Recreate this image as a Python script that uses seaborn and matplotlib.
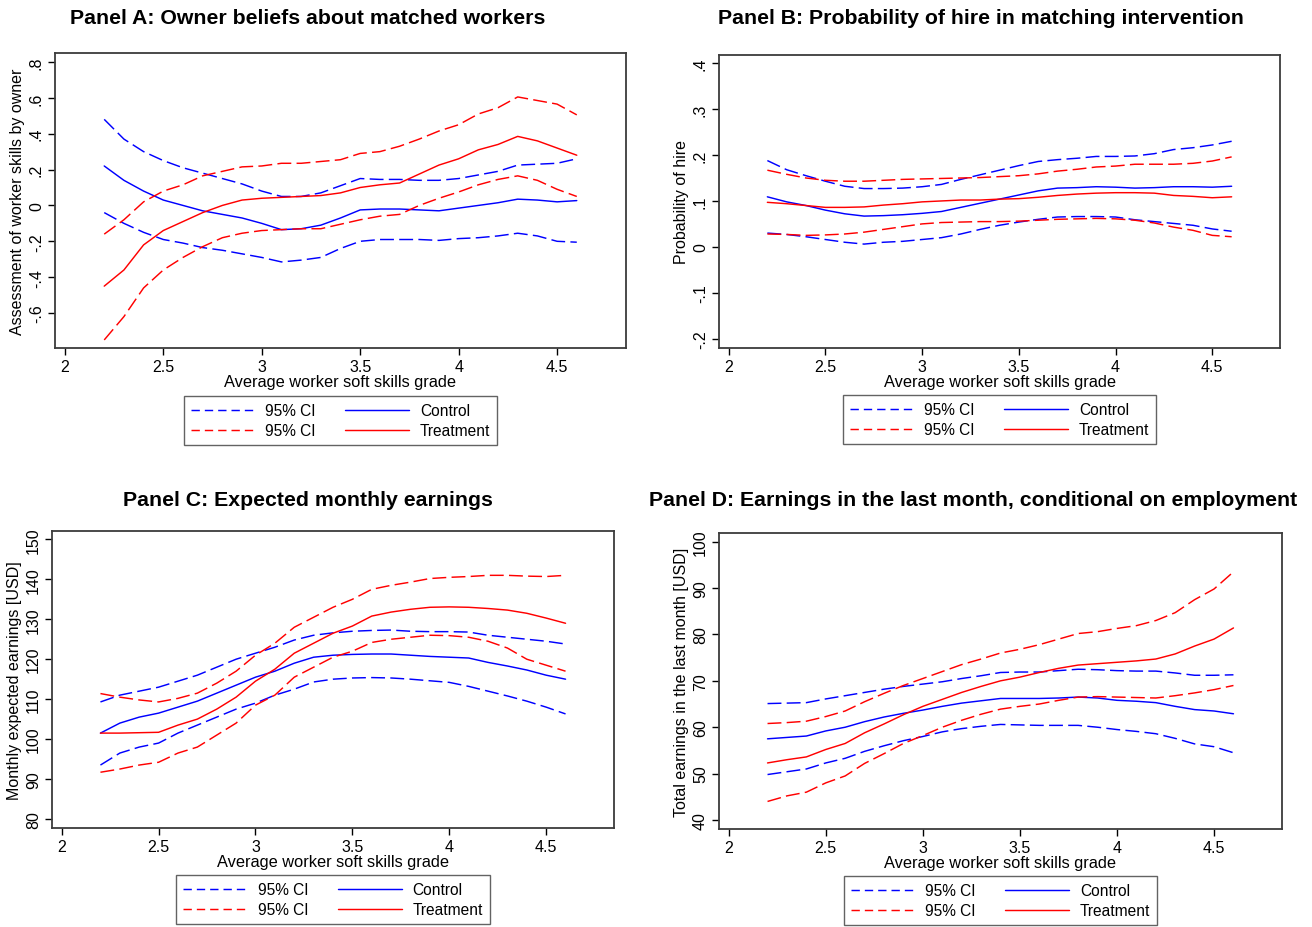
import matplotlib
matplotlib.use("Agg")
import matplotlib.pyplot as plt
import numpy as np
import pandas as pd
import seaborn as sns
from matplotlib.lines import Line2D
from matplotlib.ticker import FuncFormatter

# ---------------------------------------------------------------------------
# Data: local-polynomial fits and 95% confidence bands by soft-skills grade
# ---------------------------------------------------------------------------
grade = [2.2, 2.3, 2.4, 2.5, 2.6, 2.7, 2.8, 2.9, 3.0, 3.1, 3.2, 3.3, 3.4,
         3.5, 3.6, 3.7, 3.8, 3.9, 4.0, 4.1, 4.2, 4.3, 4.4, 4.5, 4.6]

# Panel A: owner beliefs about matched workers
a_control = [0.22, 0.14, 0.08, 0.03, 0.0, -0.03, -0.05, -0.07, -0.10, -0.135, -0.13, -0.11, -0.07,
             -0.025, -0.02, -0.02, -0.025, -0.03, -0.015, 0.0, 0.015, 0.035, 0.03, 0.02, 0.027]
a_control_hi = [0.48, 0.37, 0.30, 0.25, 0.21, 0.18, 0.15, 0.12, 0.08, 0.05, 0.05, 0.07, 0.11,
                0.15, 0.145, 0.145, 0.14, 0.14, 0.15, 0.17, 0.19, 0.225, 0.23, 0.235, 0.26]
a_control_lo = [-0.04, -0.10, -0.15, -0.19, -0.21, -0.235, -0.25, -0.27, -0.29, -0.315, -0.305, -0.29, -0.24,
                -0.20, -0.19, -0.19, -0.19, -0.195, -0.185, -0.18, -0.17, -0.155, -0.17, -0.20, -0.205]
a_treat = [-0.45, -0.36, -0.22, -0.14, -0.09, -0.04, 0.0, 0.03, 0.04, 0.045, 0.05, 0.055, 0.07,
           0.10, 0.115, 0.125, 0.175, 0.225, 0.26, 0.31, 0.34, 0.385, 0.36, 0.32, 0.28]
a_treat_hi = [-0.16, -0.08, 0.02, 0.08, 0.115, 0.165, 0.19, 0.215, 0.22, 0.235, 0.235, 0.245, 0.255,
              0.29, 0.30, 0.33, 0.37, 0.415, 0.45, 0.51, 0.545, 0.605, 0.585, 0.565, 0.505]
a_treat_lo = [-0.75, -0.62, -0.46, -0.36, -0.29, -0.23, -0.18, -0.155, -0.14, -0.135, -0.13, -0.13, -0.105,
              -0.08, -0.06, -0.05, 0.0, 0.04, 0.075, 0.115, 0.145, 0.165, 0.14, 0.09, 0.05]

# Panel B: probability of hire in matching intervention
b_control = [0.109, 0.098, 0.09, 0.08, 0.072, 0.067, 0.068, 0.070, 0.073, 0.077, 0.086, 0.095, 0.104,
             0.113, 0.122, 0.128, 0.129, 0.131, 0.130, 0.128, 0.129, 0.131, 0.131, 0.130, 0.132]
b_control_hi = [0.188, 0.168, 0.155, 0.143, 0.132, 0.127, 0.127, 0.128, 0.131, 0.136, 0.147, 0.157, 0.167,
                0.177, 0.186, 0.190, 0.193, 0.197, 0.197, 0.198, 0.203, 0.212, 0.216, 0.222, 0.230]
b_control_lo = [0.030, 0.027, 0.022, 0.016, 0.010, 0.006, 0.010, 0.012, 0.016, 0.020, 0.028, 0.038, 0.047,
                0.054, 0.060, 0.065, 0.066, 0.066, 0.065, 0.059, 0.055, 0.051, 0.047, 0.039, 0.034]
b_treat = [0.097, 0.094, 0.090, 0.086, 0.086, 0.087, 0.091, 0.094, 0.098, 0.100, 0.102, 0.102, 0.104,
           0.105, 0.108, 0.112, 0.115, 0.117, 0.118, 0.118, 0.117, 0.112, 0.110, 0.107, 0.109]
b_treat_hi = [0.167, 0.158, 0.150, 0.145, 0.143, 0.143, 0.145, 0.147, 0.148, 0.149, 0.150, 0.151, 0.153,
              0.155, 0.159, 0.165, 0.169, 0.174, 0.176, 0.180, 0.180, 0.180, 0.182, 0.187, 0.196]
b_treat_lo = [0.028, 0.027, 0.025, 0.026, 0.028, 0.032, 0.038, 0.044, 0.050, 0.053, 0.054, 0.055, 0.055,
              0.056, 0.058, 0.060, 0.061, 0.062, 0.061, 0.058, 0.052, 0.043, 0.036, 0.025, 0.022]

# Panel C: expected monthly earnings (USD)
c_control = [101.5, 104, 105.5, 106.5, 108, 109.5, 111.5, 113.5, 115.5, 117, 119, 120.5, 121,
             121.2, 121.3, 121.3, 121, 120.7, 120.5, 120.3, 119.2, 118.3, 117.3, 116, 115]
c_control_hi = [109.3, 111, 112, 113, 114.5, 116, 118, 120, 121.5, 123, 124.8, 126, 126.6,
                127, 127.2, 127.3, 127, 126.9, 126.9, 126.8, 126, 125.5, 125, 124.5, 123.8]
c_control_lo = [93.5, 96.5, 98, 99, 101.5, 103.5, 105.5, 107.5, 109, 111, 112.5, 114.3, 115,
                115.3, 115.4, 115.3, 115, 114.6, 114.2, 113.2, 112, 110.8, 109.5, 108, 106.3]
c_treat = [101.5, 101.5, 101.6, 101.7, 103.5, 105, 107.5, 110.5, 114.5, 117.5, 121.5, 124, 126.5,
           128.3, 130.8, 131.8, 132.5, 133, 133.1, 133, 132.7, 132.3, 131.5, 130.3, 129]
c_treat_hi = [111.4, 110.5, 109.8, 109.3, 110.2, 111.5, 114, 117, 121, 124, 128, 130.5, 133,
              135, 137.5, 138.5, 139.3, 140.2, 140.5, 140.7, 141, 141, 140.8, 140.7, 141]
c_treat_lo = [91.7, 92.5, 93.5, 94.2, 96.5, 98, 101, 104, 108.5, 111, 115.5, 118, 120.5,
              122, 124.2, 125, 125.5, 126, 125.9, 125.5, 124.5, 122.8, 120, 118.5, 117]

# Panel D: earnings in the last month, conditional on employment (USD)
d_control = [57.5, 57.8, 58.1, 59.2, 60, 61.2, 62.2, 63, 63.7, 64.5, 65.2, 65.7, 66.2,
             66.2, 66.2, 66.3, 66.5, 66.3, 65.8, 65.6, 65.3, 64.5, 63.8, 63.5, 62.9]
d_control_hi = [65.1, 65.2, 65.3, 66.1, 66.8, 67.5, 68.2, 68.8, 69.3, 69.8, 70.5, 71.1, 71.8,
                71.9, 71.9, 72.2, 72.5, 72.4, 72.2, 72.1, 72.1, 71.7, 71.2, 71.2, 71.3]
d_control_lo = [49.8, 50.4, 51, 52.3, 53.3, 54.8, 56, 57.1, 58, 59, 59.7, 60.2, 60.6,
                60.5, 60.4, 60.4, 60.4, 60, 59.5, 59.1, 58.6, 57.6, 56.4, 55.8, 54.5]
d_treat = [52.3, 53, 53.6, 55.2, 56.5, 58.8, 60.7, 62.7, 64.5, 66, 67.5, 68.8, 70,
           70.8, 71.8, 72.7, 73.4, 73.7, 74, 74.3, 74.7, 75.8, 77.5, 79, 81.4]
d_treat_hi = [60.8, 61, 61.3, 62.3, 63.5, 65.5, 67.3, 69, 70.5, 72, 73.5, 74.7, 76,
              76.8, 77.8, 79, 80.2, 80.6, 81.3, 81.9, 83, 84.7, 87.5, 89.8, 93.5]
d_treat_lo = [44, 45.2, 46, 48, 49.5, 52.2, 54.3, 56.5, 58.2, 60, 61.5, 62.8, 63.9,
              64.5, 65, 65.8, 66.5, 66.6, 66.5, 66.4, 66.3, 66.8, 67.4, 68.1, 69]

x_ticks = [2, 2.5, 3, 3.5, 4, 4.5]
x_label = "Average worker soft skills grade"
legend_labels = ["95% CI", "95% CI", "Control", "Treatment"]

# ---------------------------------------------------------------------------
# Style
# ---------------------------------------------------------------------------
sns.set_theme(style="white")
plt.rcParams["font.family"] = ["Liberation Sans", "DejaVu Sans"]
plt.rcParams["lines.scale_dashes"] = False
plt.rcParams["axes.unicode_minus"] = False
for key in ["text.color", "axes.labelcolor", "xtick.color", "ytick.color"]:
    plt.rcParams[key] = "black"

BLUE = "#0000FF"
RED = "#FF0000"
DASH = (0, (10, 3.8))
KEY_DASH = (0, (6, 3.6))
LW = 1.05
FRAME = "#3c3c3c"

W, H = 1312, 928
fig = plt.figure(figsize=(W / 100, H / 100), dpi=100)
fig.patch.set_facecolor("white")


def box(left, right, top, bottom):
    return [left / W, 1 - bottom / H, (right - left) / W, (bottom - top) / H]


def stata_fmt(v, pos):
    s = f"{round(v, 6):g}"
    if s.startswith("0."):
        s = s[1:]
    elif s.startswith("-0."):
        s = "-" + s[2:]
    return s


panels = [
    dict(rect=box(55, 626, 54, 349), ylim=(-0.795, 0.85), yticks=np.arange(-0.6, 0.81, 0.2),
         ylabel="Assessment of worker skills by owner",
         title="Panel A: Owner beliefs about matched workers", title_xy=(308, 18), leg_top=397,
         series=(a_control, a_control_hi, a_control_lo, a_treat, a_treat_hi, a_treat_lo)),
    dict(rect=box(719, 1280, 56, 349), ylim=(-0.2204, 0.418), yticks=np.arange(-0.2, 0.41, 0.1),
         ylabel="Probability of hire",
         title="Panel B: Probability of hire in matching intervention", title_xy=(981, 18), leg_top=396,
         series=(b_control, b_control_hi, b_control_lo, b_treat, b_treat_hi, b_treat_lo)),
    dict(rect=box(52, 614, 532, 829), ylim=(77.74, 152.1), yticks=np.arange(80, 151, 10),
         ylabel="Monthly expected earnings [USD]",
         title="Panel C: Expected monthly earnings", title_xy=(308, 501), leg_top=876,
         series=(c_control, c_control_hi, c_control_lo, c_treat, c_treat_hi, c_treat_lo)),
    dict(rect=box(719, 1282, 534, 830), ylim=(38.06, 101.87), yticks=np.arange(40, 101, 10),
         ylabel="Total earnings in the last month [USD]",
         title="Panel D: Earnings in the last month, conditional on employment", title_xy=(973, 501),
         leg_top=877,
         series=(d_control, d_control_hi, d_control_lo, d_treat, d_treat_hi, d_treat_lo)),
]

# Legend keys: dashed bands and solid fits for each group
legend_keys = [Line2D([], [], color=BLUE, lw=LW, linestyle=KEY_DASH),
               Line2D([], [], color=RED, lw=LW, linestyle=KEY_DASH),
               Line2D([], [], color=BLUE, lw=LW),
               Line2D([], [], color=RED, lw=LW)]

for p in panels:
    ax = fig.add_axes(p["rect"])
    ctrl, ctrl_hi, ctrl_lo, trt, trt_hi, trt_lo = p["series"]
    df = pd.DataFrame({"grade": grade, "ctrl": ctrl, "ctrl_hi": ctrl_hi, "ctrl_lo": ctrl_lo,
                       "trt": trt, "trt_hi": trt_hi, "trt_lo": trt_lo})

    for col, color, style in [("ctrl_hi", BLUE, DASH), ("ctrl_lo", BLUE, DASH), ("ctrl", BLUE, "-"),
                              ("trt_hi", RED, DASH), ("trt_lo", RED, DASH), ("trt", RED, "-")]:
        sns.lineplot(data=df, x="grade", y=col, ax=ax, color=color, linestyle=style,
                     linewidth=LW, errorbar=None, legend=False)

    ax.set_xlim(1.95, 4.85)
    ax.set_ylim(*p["ylim"])
    ax.set_xticks(x_ticks)
    ax.set_yticks(p["yticks"])
    ax.xaxis.set_major_formatter(FuncFormatter(stata_fmt))
    ax.yaxis.set_major_formatter(FuncFormatter(stata_fmt))
    ax.tick_params(axis="both", direction="out", length=5, width=1, color="black",
                   labelcolor="black", labelsize=11.5, pad=3, bottom=True, left=True)
    for lab in ax.get_yticklabels():
        lab.set_rotation(90)
        lab.set_va("center")
    ax.set_xlabel(x_label, fontsize=11.8, labelpad=0, color="black")
    ax.set_ylabel(p["ylabel"], fontsize=11.5, labelpad=3, color="black")
    for side in ["top", "right", "left", "bottom"]:
        ax.spines[side].set_color(FRAME)
        ax.spines[side].set_linewidth(1.3)
    ax.set_facecolor("white")

    cx = (p["rect"][0] + p["rect"][2] / 2)
    leg = ax.legend(legend_keys, legend_labels, ncol=2, loc="upper center",
                    bbox_to_anchor=(cx, 1 - p["leg_top"] / H), bbox_transform=fig.transFigure,
                    borderaxespad=0, fontsize=11.2, frameon=True, fancybox=False,
                    handlelength=4.1, handletextpad=0.7, columnspacing=1.9,
                    labelspacing=0.32, borderpad=0.45)
    leg.get_frame().set_edgecolor(FRAME)
    leg.get_frame().set_linewidth(1.0)
    for t in leg.get_texts():
        t.set_color("black")

    tx, ty = p["title_xy"]
    fig.text(tx / W, 1 - ty / H, p["title"], ha="center", va="center",
             fontsize=15.3, fontweight="bold", color="black")

fig.savefig("out.png", dpi=100, facecolor="white")
